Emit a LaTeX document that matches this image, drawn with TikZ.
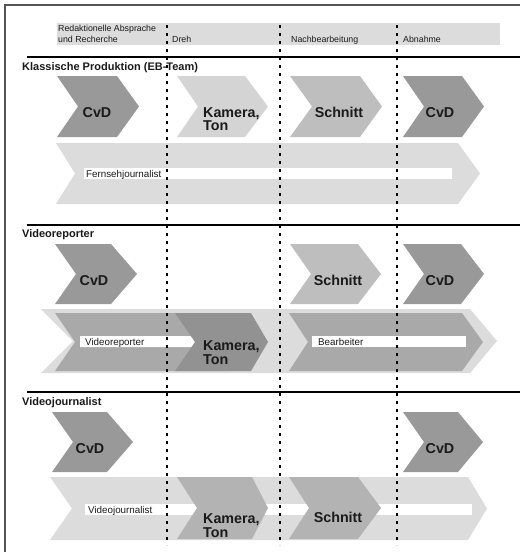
\documentclass[tikz,border=0pt]{standalone}
\usepackage{fontspec}
\setmainfont{Liberation Sans}
\definecolor{cdark}{HTML}{999999}
\definecolor{cmed}{HTML}{A9A9A9}
\definecolor{cmedd}{HTML}{929292}
\definecolor{cschn}{HTML}{BEBEBE}
\definecolor{ckam}{HTML}{D4D4D4}
\definecolor{clight}{HTML}{DCDCDC}
\definecolor{cvj}{HTML}{B3B3B3}
\definecolor{cframe}{HTML}{555555}
\definecolor{ctext}{HTML}{1A1A1A}
% chevron: fill, L, R, T, B, right depth, notch depth
\newcommand\mychev[7]{\fill[#1] (#2,#4) -- ({#3-#6},#4) -- (#3,{(#4+#5)/2}) -- ({#3-#6},#5) -- (#2,#5) -- ({#2+#7},{(#4+#5)/2}) -- cycle;}
\tikzset{
  hdr/.style={anchor=base west, inner sep=0pt, text=ctext, font=\fontsize{8.8}{10}\selectfont},
  sectitle/.style={anchor=base west, inner sep=0pt, text=ctext, font=\bfseries\fontsize{11}{13}\selectfont},
  bartext/.style={anchor=base west, inner sep=0pt, text=ctext, font=\fontsize{9.8}{11}\selectfont},
  chevtext/.style={anchor=base, inner sep=0pt, text=ctext, font=\bfseries\fontsize{14.3}{13}\selectfont},
  chevtextl/.style={anchor=base west, inner sep=0pt, text=ctext, font=\bfseries\fontsize{14.3}{13}\selectfont},
  hline/.style={line width=2pt, black},
  vdash/.style={line width=2pt, black, dash pattern=on 3pt off 5pt},
}
\begin{document}
\begin{tikzpicture}[x=1pt,y=-1pt]
\useasboundingbox (0,0) rectangle (520,552);
\fill[white] (0,0) rectangle (520,552);
% frame
\draw[cframe, line width=1.2pt] (5,552) -- (5,5) -- (520,5);
% header band
\fill[clight] (57,23) rectangle (500,45);
\node[hdr] (h1) at (58,31.5) {Redaktionelle Absprache};
\node[hdr] (h1b) at (58,42) {und Recherche};
\node[hdr] (h2) at (172,42) {Dreh};
\node[hdr] (h3) at (291,42) {Nachbearbeitung};
\node[hdr] (h4) at (403,42) {Abnahme};
% horizontal rules
\draw[hline] (27,57) -- (520,57);
\draw[hline] (27,225) -- (520,225);
\draw[hline] (27,392) -- (520,392);
% ---------- Section 1
\node[sectitle] (s1) at (22,70) {Klassische Produktion (EB-Team)};
\mychev{cdark}{57}{139}{76}{137}{22}{21}
\mychev{ckam}{177}{268}{76}{137}{23}{21}
\mychev{cschn}{290}{382}{76}{137}{22}{22}
\mychev{cdark}{403}{484}{76}{137}{22}{21}
\node[chevtext] (c1a) at (97,117) {CvD};
\node[chevtextl] (k1a) at (203,117) {Kamera,};
\node[chevtextl] (k1b) at (203,130.5) {Ton};
\node[chevtext] (sc1) at (339,117) {Schnitt};
\node[chevtext] (c1b) at (440,117) {CvD};
\mychev{clight}{56}{480}{143}{204}{22}{19}
\fill[white] (84,168) rectangle (452,179);
\node[bartext] (fj) at (86,177) {Fernsehjournalist};
% ---------- Section 2
\node[sectitle] (s2) at (22,237) {Videoreporter};
\mychev{cdark}{55}{137}{244}{304}{26}{21}
\mychev{cschn}{290}{381}{244}{304}{23}{21}
\mychev{cdark}{403}{484}{244}{304}{23}{21}
\node[chevtext] (c2a) at (94,285) {CvD};
\node[chevtext] (sc2) at (338,285) {Schnitt};
\node[chevtext] (c2b) at (440,285) {CvD};
\mychev{clight}{41}{497}{309}{373}{27}{32}
\mychev{cmed}{55}{250}{313}{371}{20}{20}
\fill[white] (80,336) -- (192,336) -- (197,341.5) -- (192,347) -- (80,347) -- cycle;
\node[bartext] (vr) at (85,345) {Videoreporter};
\mychev{cmedd}{175}{268}{313}{371}{17}{20}
\node[chevtextl] (k2a) at (203,350.5) {Kamera,};
\node[chevtextl] (k2b) at (203,364) {Ton};
\mychev{cmed}{289}{483}{313}{371}{21}{19}
\fill[white] (312,336) rectangle (466,347);
\node[bartext] (bb) at (318,345) {Bearbeiter};
% ---------- Section 3
\node[sectitle] (s3) at (22,405) {Videojournalist};
\mychev{cdark}{52}{133}{412}{472}{26}{21}
\mychev{cdark}{403}{483}{412}{472}{25}{21}
\node[chevtext] (c3a) at (90,453) {CvD};
\node[chevtext] (c3b) at (440,453) {CvD};
\mychev{clight}{50}{487}{477}{540}{19}{22}
\fill[white] (85,504) rectangle (472,514.5);
\node[bartext] (vj) at (88,513) {Videojournalist};
\mychev{cvj}{177}{268}{477}{539}{16}{20}
\mychev{cvj}{289}{381}{477}{539}{23}{20}
\node[chevtextl] (k3a) at (203,523.5) {Kamera,};
\node[chevtextl] (k3b) at (203,537) {Ton};
\node[chevtext] (sc3) at (338,522) {Schnitt};
% dashed phase separators
\draw[vdash] (167,25) -- (167,545);
\draw[vdash] (280,25) -- (280,545);
\draw[vdash] (397,25) -- (397,545);
\end{tikzpicture}
\end{document}
